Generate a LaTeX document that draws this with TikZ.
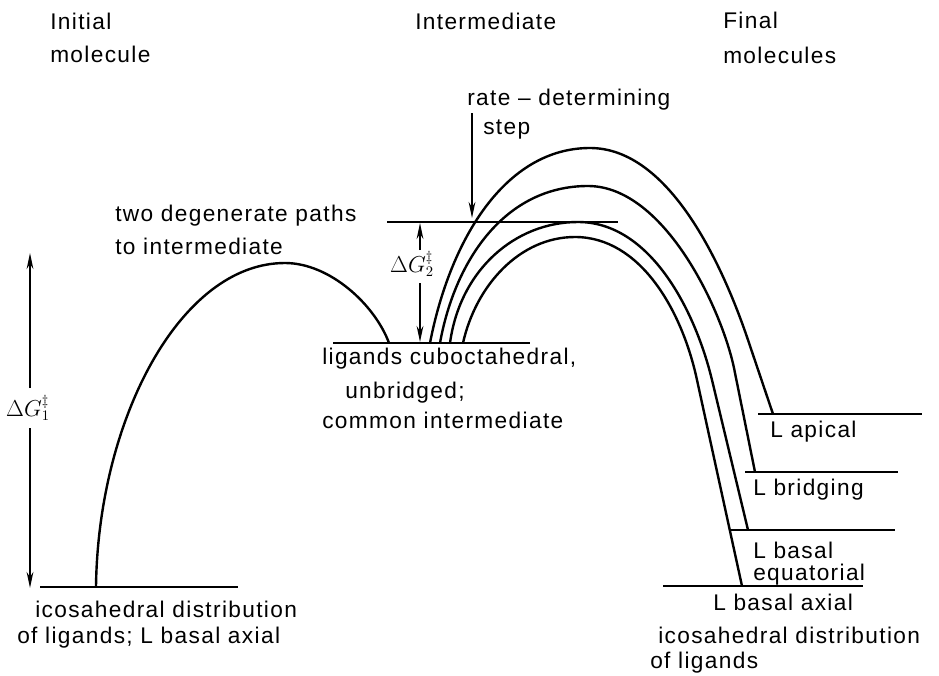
\documentclass[tikz,border=0pt]{standalone}
\usepackage{fontspec}
\setmainfont[LetterSpace=6]{Liberation Sans}
\usetikzlibrary{arrows.meta}
\tikzset{
  lvl/.style={line width=1.8pt},
  crv/.style={line width=1.8pt},
  arr/.style={line width=1.6pt,-{Stealth[length=12pt,width=5pt]}},
  lbl/.style={font=\fontsize{17}{20}\selectfont,inner sep=0pt,anchor=base west},
  dg/.style={font=\fontsize{16}{18}\selectfont,inner sep=1pt},
}
\begin{document}
\begin{tikzpicture}[x=0.75pt,y=-0.75pt]
	\useasboundingbox(0,0)rectangle(939,675);
	% headings
	\node[lbl](ini1)at(50,29){Initial};
	\node[lbl](ini2)at(50,62){molecule};
	\node[lbl](int)at(415,29){Intermediate};
	\node[lbl](fin1)at(723,28){Final};
	\node[lbl](fin2)at(723,63){molecules};
	% levels
	\draw[lvl](40,587)coordinate(r0)--(238,587);
	\draw[lvl](333,343)coordinate(i0)--(530,343);
	\draw[lvl](387,222)coordinate(t0)--(618,222);
	\draw[lvl](758,414)coordinate(p1)--(922,414);
	\draw[lvl](745,472)coordinate(p2)--(898,472);
	\draw[lvl](730,530)coordinate(p3)--(895,530);
	\draw[lvl](663,586)coordinate(p4)--(863,586);
	% first barrier
	\draw[crv](96,587)..controls(98,420)and(180,263)..(285,263)
		..controls(330,263)and(375,305)..(389,343);
	% four paths to the final molecules
	\draw[crv](430,343)..controls(450,240)and(505,148)..(590,148)
		..controls(670,148)and(723,267)..(747,337)--(773,414);
	\draw[crv](440,343)..controls(455,260)and(505,186)..(588,186)
		..controls(665,186)and(724,313)..(735,373)--(755,472);
	\draw[crv](450,343)..controls(460,270)and(515,222)..(578,222)
		..controls(650,222)and(695,310)..(712,380)--(748,530);
	\draw[crv](463,343)..controls(476,285)and(520,237)..(575,237)
		..controls(640,237)and(682,310)..(697,380)--(742,586);
	% energy arrows
	\node[dg](dg1)at(28,408){$\Delta G_1^{\ddagger}$};
	\draw[arr](30,388)--(30,253);
	\draw[arr](30,428)--(30,588);
	\node[dg](dg2)at(412,264){$\Delta G_2^{\ddagger}$};
	\draw[arr](420,250)--(420,223);
	\draw[arr](420,283)--(420,342);
	% rate determining step
	\node[lbl](rds1)at(467,105){rate -- determining};
	\node[lbl](rds2)at(483,134){step};
	\draw[arr](472,113)--(472,218);
	% labels
	\node[lbl](two1)at(115,221){two degenerate paths};
	\node[lbl](two2)at(115,254){to intermediate};
	\node[lbl](cub1)at(322,364){ligands cuboctahedral,};
	\node[lbl](cub2)at(345,398){unbridged;};
	\node[lbl](cub3)at(322,428){common intermediate};
	\node[lbl](ico1)at(35,617){icosahedral distribution};
	\node[lbl](ico2)at(17,643){of ligands; L basal axial};
	\node[lbl](api)at(770,437){L apical};
	\node[lbl](bri)at(753,495){L bridging};
	\node[lbl](beq1)at(753,558){L basal};
	\node[lbl](beq2)at(753,580){equatorial};
	\node[lbl](bax)at(713,610){L basal axial};
	\node[lbl](fic1)at(658,643){icosahedral distribution};
	\node[lbl](fic2)at(650,668){of ligands};
\end{tikzpicture}
\end{document}
